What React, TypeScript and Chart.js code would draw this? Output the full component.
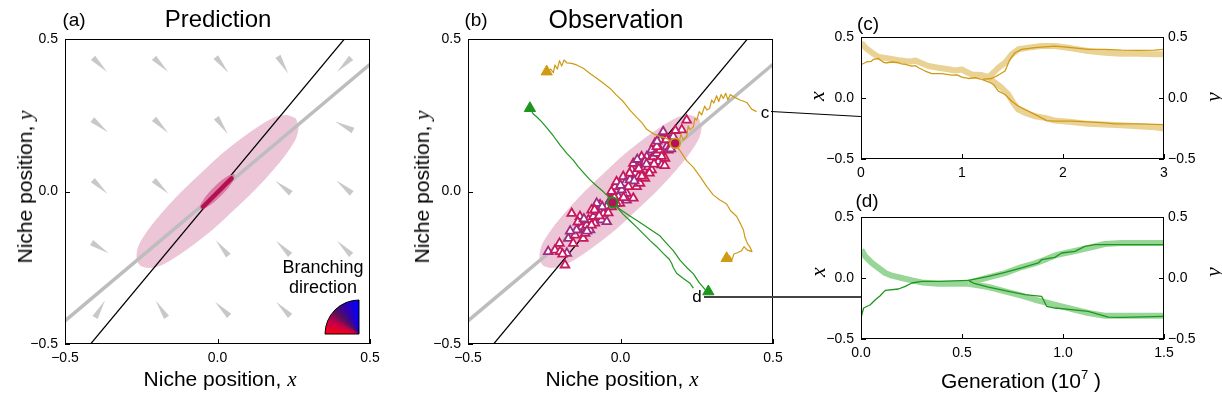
import React, { useEffect, useRef } from 'react';
import { Chart, registerables } from 'chart.js';

Chart.register(...registerables);

type P = [number, number];

const SANS = '"Liberation Sans", Arial, Helvetica, sans-serif';
const SERIF = '"Liberation Serif", "DejaVu Serif", serif';
Chart.defaults.font.family = SANS;

// ---------- axis ticks ----------
const NICHE_TICKS = [-0.5, 0, 0.5];
const NICHE_TICK_LABELS = ['−0.5', '0.0', '0.5'];
const GEN_C_TICKS = [0, 1, 2, 3];
const GEN_C_TICK_LABELS = ['0', '1', '2', '3'];
const GEN_D_TICKS = [0, 0.5, 1, 1.5];
const GEN_D_TICK_LABELS = ['0.0', '0.5', '1.0', '1.5'];

// ---------- panel (a) prediction ----------
const CLOUD_OUTLINE: P[] = [
  [0.256, 0.239], [0.226, 0.249], [0.185, 0.241], [0.115, 0.199], [0.019, 0.126], [-0.055, 0.058],
  [-0.127, -0.011], [-0.207, -0.101], [-0.253, -0.168], [-0.264, -0.208],
  [-0.256, -0.239], [-0.226, -0.249], [-0.185, -0.241], [-0.115, -0.199], [-0.019, -0.126], [0.055, -0.058],
  [0.127, 0.011], [0.207, 0.101], [0.253, 0.168], [0.264, 0.208],
];
const CORE_OUTLINE: P[] = [
  [0.055, 0.055], [0.032, 0.048], [-0.012, 0.012], [-0.048, -0.032],
  [-0.055, -0.055], [-0.032, -0.048], [0.012, -0.012], [0.048, 0.032],
];
const CORE_SEGMENT: P[] = [[-0.047, -0.050], [0.046, 0.043]];
const BLACK_LINE: P[] = [[-0.416, -0.5], [0.416, 0.5]];
const GRAY_LINE: P[] = [[-0.5, -0.424], [0.5, 0.417]];
// [x, y, tip direction in degrees (screen)]
const WEDGES: [number, number, number][] = [
  [-0.385, 0.415, 45], [-0.185, 0.415, 45], [0.015, 0.415, 51], [0.215, 0.415, 59], [0.415, 0.415, 135],
  [-0.385, 0.215, 39], [-0.185, 0.215, 45], [0.015, 0.215, 55], [0.215, 0.215, 60], [0.415, 0.215, 207],
  [-0.385, 0.015, 43], [-0.185, 0.015, 43], [0.215, 0.015, 219], [0.415, 0.015, 220],
  [-0.385, -0.185, 32], [0.015, -0.185, 231], [0.215, -0.185, 225], [0.415, -0.185, 225],
  [-0.385, -0.385, 300], [-0.185, -0.385, 237], [0.015, -0.385, 225], [0.215, -0.385, 225],
];

// ---------- panel (b) observation ----------
const OBS_POINTS: P[] = [
  [-0.237, -0.197], [-0.215, -0.192], [-0.198, -0.197], [-0.176, -0.203], [-0.182, -0.241], [-0.160, -0.072],
  [-0.171, -0.154], [-0.149, -0.143], [-0.138, -0.126], [-0.127, -0.115], [-0.122, -0.154], [-0.111, -0.110],
  [-0.100, -0.126], [-0.105, -0.093], [-0.089, -0.082], [-0.078, -0.066], [-0.084, -0.104], [-0.067, -0.044],
  [-0.062, -0.093], [-0.056, -0.072], [-0.045, -0.050], [-0.034, -0.028], [-0.024, -0.006], [-0.018, 0.016],
  [-0.007, -0.017], [-0.002, -0.039], [0.009, 0.049], [0.015, 0.027], [0.020, -0.006], [0.026, 0.016],
  [0.031, 0.038], [0.037, 0.071], [0.042, 0.092], [0.048, 0.060], [0.059, 0.049], [0.053, 0.016],
  [0.064, 0.092], [0.069, 0.114], [0.075, 0.071], [0.086, 0.114], [0.091, 0.081], [0.097, 0.103],
  [0.102, 0.136], [0.108, 0.114], [0.113, 0.158], [0.119, 0.125], [0.124, 0.098], [0.130, 0.136],
  [0.135, 0.087], [0.141, 0.191], [0.146, 0.109], [0.152, 0.147], [0.157, 0.136], [0.162, 0.169],
  [0.173, 0.180], [0.201, 0.202], [0.217, 0.234], [0.130, 0.169], [0.119, 0.147], [0.080, 0.098],
  [0.020, -0.028], [0.042, -0.022], [0.064, 0.027], [-0.045, -0.099], [-0.029, -0.050], [-0.013, -0.039],
  [-0.078, -0.039], [-0.095, -0.061], [-0.133, -0.082], [-0.144, -0.126], [-0.116, -0.137], [-0.013, 0.032],
  [0.004, 0.005], [0.080, 0.043], [0.102, 0.071], [0.140, 0.196],
  [-0.200, -0.170], [-0.190, -0.205], [-0.165, -0.130], [-0.155, -0.170], [-0.140, -0.100], [-0.120, -0.090],
  [-0.095, -0.110], [-0.070, -0.080], [-0.060, -0.050], [-0.040, -0.070], [-0.020, -0.020], [0.000, 0.020],
  [0.010, -0.020], [0.030, 0.060], [0.045, 0.035], [0.060, 0.075], [0.070, 0.050], [0.085, 0.090],
  [0.095, 0.060], [0.110, 0.090], [0.120, 0.165], [0.135, 0.115], [0.150, 0.170], [0.165, 0.140],
  [0.180, 0.200], [0.145, 0.085], [0.055, 0.105], [-0.030, 0.000], [-0.085, -0.060], [-0.110, -0.130],
];
const GOLD_START: P[] = [
  [0.446, 0.262], [0.430, 0.270], [0.414, 0.292], [0.392, 0.300], [0.370, 0.311], [0.360, 0.318],
  [0.352, 0.300], [0.345, 0.322], [0.337, 0.305], [0.330, 0.318], [0.322, 0.295], [0.315, 0.314],
  [0.306, 0.290], [0.299, 0.300], [0.292, 0.272], [0.283, 0.267], [0.276, 0.280], [0.266, 0.251],
  [0.258, 0.262], [0.250, 0.234], [0.244, 0.240], [0.239, 0.212], [0.228, 0.202], [0.222, 0.215],
  [0.217, 0.180], [0.206, 0.169], [0.198, 0.188], [0.190, 0.150], [0.179, 0.156],
];
const GOLD_BRANCH_A: P[] = [
  [0.179, 0.158], [0.151, 0.174], [0.130, 0.180], [0.108, 0.189], [0.086, 0.204], [0.070, 0.226],
  [0.053, 0.243], [0.031, 0.267], [0.009, 0.295], [-0.013, 0.316], [-0.034, 0.338], [-0.056, 0.355],
  [-0.078, 0.371], [-0.100, 0.387], [-0.122, 0.404], [-0.144, 0.415], [-0.160, 0.420], [-0.176, 0.422],
  [-0.185, 0.431], [-0.193, 0.411], [-0.200, 0.429], [-0.207, 0.401], [-0.215, 0.415], [-0.220, 0.390],
  [-0.229, 0.401], [-0.242, 0.393],
];
const GOLD_BRANCH_B: P[] = [
  [0.179, 0.158], [0.195, 0.134], [0.217, 0.101], [0.239, 0.079], [0.261, 0.049], [0.283, 0.016],
  [0.304, -0.011], [0.326, -0.028], [0.348, -0.041], [0.361, -0.063], [0.381, -0.082], [0.394, -0.107],
  [0.403, -0.126], [0.408, -0.150], [0.416, -0.170], [0.425, -0.183], [0.431, -0.197], [0.416, -0.192],
  [0.405, -0.181], [0.397, -0.194], [0.383, -0.201], [0.372, -0.205], [0.365, -0.225], [0.357, -0.211],
  [0.348, -0.219],
];
const GREEN_START: P[] = [
  [0.239, -0.317], [0.228, -0.301], [0.206, -0.285], [0.184, -0.268], [0.173, -0.249], [0.168, -0.236],
  [0.160, -0.222], [0.140, -0.203], [0.119, -0.181], [0.097, -0.161], [0.075, -0.139], [0.053, -0.117],
  [0.031, -0.096], [0.009, -0.075], [-0.007, -0.057], [-0.018, -0.044], [-0.026, -0.036],
];
const GREEN_BRANCH_A: P[] = [
  [-0.026, -0.036], [-0.040, -0.017], [-0.056, -0.001], [-0.078, 0.018], [-0.100, 0.038], [-0.120, 0.060],
  [-0.138, 0.081], [-0.155, 0.103], [-0.176, 0.125], [-0.198, 0.152], [-0.220, 0.182], [-0.240, 0.207],
  [-0.259, 0.229], [-0.275, 0.245], [-0.286, 0.254], [-0.297, 0.273],
];
const GREEN_BRANCH_B: P[] = [
  [-0.026, -0.036], [-0.002, -0.058], [0.031, -0.080], [0.064, -0.102], [0.097, -0.124], [0.130, -0.146],
  [0.151, -0.170], [0.173, -0.194], [0.195, -0.225], [0.217, -0.249], [0.239, -0.270], [0.258, -0.299],
  [0.277, -0.321], [0.288, -0.328],
];
const GOLD_ENDS: P[] = [[-0.242, 0.393], [0.348, -0.219]];
const GREEN_ENDS: P[] = [[-0.297, 0.273], [0.288, -0.328]];
const GOLD_BRANCH_POINT: P[] = [[0.179, 0.158]];
const GREEN_BRANCH_POINT: P[] = [[-0.026, -0.036]];

// ---------- panel (c) time series (gold) ----------
const C_X_PRE: P[] = [
  [0.003, 0.454], [0.043, 0.413], [0.108, 0.371], [0.174, 0.336], [0.273, 0.325], [0.372, 0.310],
  [0.438, 0.303], [0.504, 0.300], [0.537, 0.308], [0.600, 0.285], [0.668, 0.262], [0.767, 0.248],
  [0.850, 0.238], [0.932, 0.226], [0.998, 0.234], [1.040, 0.215], [1.097, 0.193], [1.195, 0.188], [1.261, 0.171],
];
const C_X_UP: P[] = [
  [1.261, 0.171], [1.294, 0.193], [1.360, 0.248], [1.426, 0.289], [1.492, 0.358], [1.558, 0.399],
  [1.657, 0.413], [1.788, 0.426], [1.920, 0.426], [2.085, 0.407], [2.249, 0.385], [2.414, 0.371],
  [2.579, 0.363], [2.743, 0.363], [2.908, 0.358], [3.0, 0.358],
];
const C_X_DOWN: P[] = [
  [1.261, 0.171], [1.327, 0.125], [1.393, 0.084], [1.459, 0.029], [1.508, -0.040], [1.558, -0.095],
  [1.624, -0.122], [1.722, -0.149], [1.821, -0.163], [1.920, -0.185], [2.085, -0.196], [2.249, -0.212],
  [2.414, -0.218], [2.579, -0.223], [2.743, -0.232], [2.908, -0.240], [3.0, -0.251],
];
const C_Y_PRE: P[] = [
  [0.003, 0.276], [0.030, 0.285], [0.059, 0.297], [0.100, 0.300], [0.125, 0.317], [0.174, 0.325],
  [0.190, 0.310], [0.207, 0.303], [0.230, 0.290], [0.256, 0.289], [0.306, 0.295], [0.372, 0.289],
  [0.400, 0.280], [0.438, 0.276], [0.504, 0.262], [0.540, 0.265], [0.570, 0.248], [0.635, 0.221],
  [0.701, 0.199], [0.800, 0.200], [0.899, 0.188], [0.950, 0.190], [0.998, 0.171], [1.064, 0.160],
  [1.130, 0.166], [1.195, 0.152],
];
const C_Y_UP: P[] = [
  [1.195, 0.152], [1.294, 0.160], [1.360, 0.188], [1.426, 0.221], [1.475, 0.317], [1.525, 0.371],
  [1.591, 0.399], [1.722, 0.413], [1.920, 0.426], [2.085, 0.413], [2.249, 0.399], [2.414, 0.399],
  [2.579, 0.393], [2.743, 0.391], [2.908, 0.393], [3.0, 0.399],
];
const C_Y_DOWN: P[] = [
  [1.195, 0.152], [1.261, 0.133], [1.311, 0.111], [1.360, 0.056], [1.426, 0.029], [1.492, -0.026],
  [1.558, -0.067], [1.657, -0.108], [1.755, -0.149], [1.838, -0.185], [1.920, -0.190], [2.085, -0.190],
  [2.249, -0.196], [2.414, -0.204], [2.513, -0.212], [2.743, -0.212], [3.0, -0.218],
];

// ---------- panel (d) time series (green) ----------
const D_X_PRE: P[] = [
  [0.002, 0.232], [0.021, 0.177], [0.054, 0.123], [0.087, 0.082], [0.120, 0.041], [0.153, 0.019],
  [0.202, 0.000], [0.252, -0.019], [0.301, -0.036], [0.384, -0.047], [0.466, -0.047], [0.532, -0.047],
];
const D_X_UP: P[] = [
  [0.532, -0.040], [0.631, 0.005], [0.713, 0.040], [0.795, 0.090], [0.861, 0.120], [0.910, 0.150],
  [0.960, 0.185], [1.042, 0.215], [1.125, 0.246], [1.207, 0.279], [1.289, 0.287], [1.372, 0.287], [1.5, 0.287],
];
const D_X_DOWN: P[] = [
  [0.532, -0.047], [0.631, -0.074], [0.713, -0.109], [0.795, -0.145], [0.861, -0.178], [0.927, -0.205],
  [0.993, -0.232], [1.059, -0.260], [1.125, -0.287], [1.207, -0.309], [1.289, -0.309], [1.5, -0.309],
];
const D_Y_PRE: P[] = [
  [0.002, -0.314], [0.013, -0.246], [0.046, -0.219], [0.071, -0.178], [0.095, -0.145], [0.120, -0.101],
  [0.186, -0.090], [0.219, -0.068], [0.252, -0.041], [0.301, -0.027], [0.384, -0.027], [0.532, -0.019],
];
const D_Y_UP: P[] = [
  [0.532, -0.019], [0.631, 0.014], [0.713, 0.046], [0.795, 0.082], [0.878, 0.123], [0.894, 0.150],
  [0.960, 0.169], [0.993, 0.205], [1.059, 0.218], [1.108, 0.259], [1.158, 0.273], [1.372, 0.273], [1.5, 0.273],
];
const D_Y_DOWN: P[] = [
  [0.532, -0.019], [0.560, -0.045], [0.631, -0.074], [0.730, -0.109], [0.812, -0.137], [0.894, -0.150],
  [0.919, -0.232], [0.960, -0.246], [1.042, -0.260], [1.125, -0.273], [1.224, -0.320], [1.289, -0.322], [1.5, -0.314],
];

// ---------- colours ----------
const PINK_CLOUD = '#ecc6d7';
const PINK_CORE = '#d97ba6';
const MAGENTA = '#b3104f';
const GRAY = '#bdbdbd';
const GOLD = '#cf9a14';
const GOLD_LIGHT = '#e9d294';
const GREEN = '#1d961d';
const GREEN_LIGHT = '#98d698';

// ---------- helpers ----------
const pts = (arr: P[]) => arr.map(([x, y]) => ({ x, y }));
const closed = (arr: P[]) => pts([...arr, arr[0]]);

function axisOpts(position: string, ticks: number[], labels: string[], min: number, max: number, fit: (s: any) => void, padding = 7) {
  return {
    type: 'linear',
    position,
    min,
    max,
    afterBuildTicks: (s: any) => { s.ticks = ticks.map((v) => ({ value: v })); },
    afterFit: fit,
    grid: { display: false, drawTicks: false },
    border: { display: false },
    ticks: {
      autoSkip: false,
      maxRotation: 0,
      minRotation: 0,
      padding,
      color: '#000',
      font: { family: SANS, size: 14 },
      callback: (_v: any, i: number) => labels[i],
    },
  };
}

const framePlugin = {
  id: 'frame',
  afterDatasetsDraw(chart: any, _args: any, opts: any) {
    const { ctx, chartArea: a } = chart;
    ctx.save();
    ctx.strokeStyle = '#000';
    ctx.lineWidth = 1;
    ctx.strokeRect(a.left + 0.5, a.top + 0.5, a.right - a.left - 1, a.bottom - a.top - 1);
    const len = 5;
    ctx.beginPath();
    for (const [id, side] of (opts.ticks || [])) {
      const s = chart.scales[id];
      if (!s) continue;
      for (const t of s.ticks) {
        const p = Math.round(s.getPixelForValue(t.value)) + 0.5;
        if (side === 'bottom') { ctx.moveTo(p, a.bottom); ctx.lineTo(p, a.bottom - len); }
        if (side === 'left') { ctx.moveTo(a.left, p); ctx.lineTo(a.left + len, p); }
        if (side === 'right') { ctx.moveTo(a.right, p); ctx.lineTo(a.right - len, p); }
      }
    }
    ctx.stroke();
    ctx.restore();
  },
};

const wedgePlugin = {
  id: 'wedges',
  beforeDatasetsDraw(chart: any, _args: any, opts: any) {
    if (!opts.items) return;
    const { ctx } = chart;
    const xs = chart.scales.x;
    const ys = chart.scales.y;
    ctx.save();
    ctx.fillStyle = '#c8c8c8';
    for (const [x, y, deg] of opts.items) {
      const cx = xs.getPixelForValue(x);
      const cy = ys.getPixelForValue(y);
      const ang = (deg * Math.PI) / 180;
      const L = 10, W = 3;
      const ux = Math.cos(ang), uy = Math.sin(ang);
      ctx.beginPath();
      ctx.moveTo(cx + ux * L, cy + uy * L);
      ctx.lineTo(cx - ux * L - uy * W, cy - uy * L + ux * W);
      ctx.lineTo(cx - ux * L + uy * W, cy - uy * L - ux * W);
      ctx.closePath();
      ctx.fill();
    }
    ctx.restore();
  },
  afterDatasetsDraw(chart: any, _args: any, opts: any) {
    if (!opts.branching) return;
    const { ctx, chartArea: a } = chart;
    const cx = a.right - 11, cy = a.bottom - 10, r = 34;
    ctx.save();
    const g = (ctx as any).createConicGradient(Math.PI, cx, cy);
    g.addColorStop(0, '#ff0010');
    g.addColorStop(0.07, '#c0004a');
    g.addColorStop(0.125, '#50105e');
    g.addColorStop(0.18, '#3000b0');
    g.addColorStop(0.25, '#0000ff');
    g.addColorStop(1, '#ff0010');
    ctx.fillStyle = g;
    ctx.beginPath();
    ctx.moveTo(cx, cy);
    ctx.arc(cx, cy, r, Math.PI, 1.5 * Math.PI);
    ctx.closePath();
    ctx.fill();
    ctx.strokeStyle = '#000';
    ctx.lineWidth = 1;
    ctx.stroke();
    ctx.restore();
  },
};

const lineDs = (data: P[], color: string, width: number, order: number, extra: any = {}) => ({
  data: pts(data), showLine: true, borderColor: color, borderWidth: width, pointRadius: 0,
  pointHoverRadius: 0, order, borderJoinStyle: 'round', ...extra,
});

const cloudDs = (order: number) => ({
  data: closed(CLOUD_OUTLINE), showLine: true, fill: 'shape', backgroundColor: PINK_CLOUD,
  borderColor: PINK_CLOUD, borderWidth: 1, pointRadius: 0, tension: 0.3, order,
});

function baseOptions(padding: any, scales: any, plugins: any) {
  return {
    animation: false,
    responsive: false,
    events: [],
    layout: { padding },
    scales,
    plugins: { legend: { display: false }, tooltip: { enabled: false }, title: { display: false }, ...plugins },
  };
}

function configA(): any {
  return {
    type: 'scatter',
    data: {
      datasets: [
        lineDs(CORE_SEGMENT, MAGENTA, 4.5, 1, { borderCapStyle: 'round' }),
        { data: closed(CORE_OUTLINE), showLine: true, fill: 'shape', backgroundColor: PINK_CORE, borderColor: PINK_CORE, borderWidth: 1, pointRadius: 0, tension: 0.4, order: 2 },
        lineDs(BLACK_LINE, '#000', 1.2, 3),
        lineDs(GRAY_LINE, GRAY, 3.5, 4),
        cloudDs(5),
      ],
    },
    options: baseOptions(
      { left: 0, top: 39, right: 30, bottom: 20 },
      {
        x: axisOpts('bottom', NICHE_TICKS, NICHE_TICK_LABELS, -0.5, 0.5, (s: any) => { s.height = 30; }, 6),
        y: axisOpts('left', NICHE_TICKS, NICHE_TICK_LABELS, -0.5, 0.5, (s: any) => { s.width = 65; }),
      },
      { frame: { ticks: [['x', 'bottom'], ['y', 'left']] }, wedges: { items: WEDGES, branching: true } },
    ),
    plugins: [framePlugin, wedgePlugin],
  };
}

function configB(): any {
  const tri = (data: P[], color: string, order: number) => ({
    data: pts(data), showLine: false, pointStyle: 'triangle', pointRadius: 6.5, backgroundColor: color,
    borderColor: color, borderWidth: 1, order,
  });
  const dot = (data: P[], ring: string, order: number) => ({
    data: pts(data), showLine: false, pointStyle: 'circle', pointRadius: 5, backgroundColor: '#b5105a',
    borderColor: ring, borderWidth: 1.8, order,
  });
  return {
    type: 'scatter',
    data: {
      datasets: [
        dot(GOLD_BRANCH_POINT, GOLD, 1),
        dot(GREEN_BRANCH_POINT, GREEN, 1),
        tri(GOLD_ENDS, GOLD, 2),
        tri(GREEN_ENDS, GREEN, 2),
        lineDs(GOLD_START, GOLD, 1.2, 3),
        lineDs(GOLD_BRANCH_A, GOLD, 1.2, 3),
        lineDs(GOLD_BRANCH_B, GOLD, 1.2, 3),
        lineDs(GREEN_START, GREEN, 1.2, 3),
        lineDs(GREEN_BRANCH_A, GREEN, 1.2, 3),
        lineDs(GREEN_BRANCH_B, GREEN, 1.2, 3),
        {
          data: pts(OBS_POINTS), showLine: false, pointStyle: 'triangle', pointRadius: 5,
          backgroundColor: '#ffffff',
          borderColor: (c: any) => (c.dataIndex % 3 === 0 ? '#9e2a82' : '#c8175c'),
          borderWidth: 1.8, order: 4,
        },
        lineDs(BLACK_LINE, '#000', 1.2, 5),
        lineDs(GRAY_LINE, GRAY, 3.5, 6),
        cloudDs(7),
      ],
    },
    options: baseOptions(
      { left: 0, top: 39, right: 27, bottom: 20 },
      {
        x: axisOpts('bottom', NICHE_TICKS, NICHE_TICK_LABELS, -0.5, 0.5, (s: any) => { s.height = 30; }, 6),
        y: axisOpts('left', NICHE_TICKS, NICHE_TICK_LABELS, -0.5, 0.5, (s: any) => { s.width = 68; }),
      },
      { frame: { ticks: [['x', 'bottom'], ['y', 'left']] }, wedges: {} },
    ),
    plugins: [framePlugin],
  };
}

function configSeries(
  xPre: P[], xUp: P[], xDown: P[], yPre: P[], yUp: P[], yDown: P[],
  thin: string, thick: string, tTicks: number[], tLabels: string[], tMax: number, padding: any,
): any {
  return {
    type: 'scatter',
    data: {
      datasets: [
        lineDs(yPre, thin, 1.3, 1),
        lineDs(yUp, thin, 1.3, 1),
        lineDs(yDown, thin, 1.3, 1),
        lineDs(xPre, thick, 6, 3),
        lineDs(xUp, thick, 6, 3),
        lineDs(xDown, thick, 6, 3),
      ],
    },
    options: baseOptions(
      padding,
      {
        x: axisOpts('bottom', tTicks, tLabels, 0, tMax, (s: any) => { s.height = 25; }, 6),
        y: axisOpts('left', NICHE_TICKS, NICHE_TICK_LABELS, -0.5, 0.5, (s: any) => { s.width = 61; }),
        y2: axisOpts('right', NICHE_TICKS, NICHE_TICK_LABELS, -0.5, 0.5, (s: any) => { s.width = 58; }, 4),
      },
      { frame: { ticks: [['x', 'bottom'], ['y', 'left'], ['y2', 'right']] } },
    ),
    plugins: [framePlugin],
  };
}

function ChartCanvas({ left, top, width, height, make }: { left: number; top: number; width: number; height: number; make: () => any }) {
  const ref = useRef<HTMLCanvasElement | null>(null);
  useEffect(() => {
    if (!ref.current) return;
    const chart = new Chart(ref.current, make());
    return () => chart.destroy();
  }, []);
  return (
    <canvas
      ref={ref}
      width={width}
      height={height}
      style={{ position: 'absolute', left, top, width, height }}
    />
  );
}

function Txt({ x, y, size, children, rotate = 0, family = SANS }: { x: number; y: number; size: number; children: any; rotate?: number; family?: string }) {
  return (
    <div
      style={{
        position: 'absolute', left: x, top: y, transform: `translate(-50%, -50%) rotate(${rotate}deg)`,
        fontSize: size, fontFamily: family, whiteSpace: 'nowrap', lineHeight: 1, color: '#000',
      }}
    >
      {children}
    </div>
  );
}

const Var = ({ c }: { c: string }) => (
  <span style={{ fontFamily: SERIF, fontStyle: 'italic' }}>{c}</span>
);

export default function App() {
  return (
    <div style={{ position: 'fixed', left: 0, top: 0, width: 1222, height: 394, background: '#fff', overflow: 'hidden' }}>
      <ChartCanvas left={0} top={0} width={400} height={394} make={configA} />
      <ChartCanvas left={400} top={0} width={400} height={394} make={configB} />
      <ChartCanvas
        left={800} top={0} width={422} height={200}
        make={() => configSeries(C_X_PRE, C_X_UP, C_X_DOWN, C_Y_PRE, C_Y_UP, C_Y_DOWN, GOLD, GOLD_LIGHT, GEN_C_TICKS, GEN_C_TICK_LABELS, 3, { left: 0, top: 37, right: 0, bottom: 16 })}
      />
      <ChartCanvas
        left={800} top={200} width={422} height={194}
        make={() => configSeries(D_X_PRE, D_X_UP, D_X_DOWN, D_Y_PRE, D_Y_UP, D_Y_DOWN, GREEN, GREEN_LIGHT, GEN_D_TICKS, GEN_D_TICK_LABELS, 1.5, { left: 0, top: 17, right: 0, bottom: 30 })}
      />

      {/* connectors */}
      <div style={{ position: 'absolute', left: 771, top: 111, width: 90, height: 1, background: '#000', transformOrigin: '0 0', transform: 'rotate(3.2deg)' }} />
      <div style={{ position: 'absolute', left: 704, top: 296, width: 157, height: 1.5, background: '#444' }} />

      {/* panel titles */}
      <Txt x={74} y={19} size={19}>(a)</Txt>
      <Txt x={218} y={19} size={24}>Prediction</Txt>
      <Txt x={476} y={19} size={19}>(b)</Txt>
      <Txt x={616} y={19} size={25}>Observation</Txt>
      <Txt x={868} y={23} size={19}>(c)</Txt>
      <Txt x={867} y={200} size={19}>(d)</Txt>

      {/* axis titles */}
      <Txt x={220} y={379} size={21}>Niche position, <Var c="x" /></Txt>
      <Txt x={25} y={187} size={21} rotate={-90}>Niche position, <Var c="y" /></Txt>
      <Txt x={622} y={379} size={21}>Niche position, <Var c="x" /></Txt>
      <Txt x={422} y={187} size={21} rotate={-90}>Niche position, <Var c="y" /></Txt>
      <Txt x={817} y={96} size={22} rotate={-90} family={SERIF}><Var c="x" /></Txt>
      <Txt x={1213} y={97} size={22} rotate={-90} family={SERIF}><Var c="y" /></Txt>
      <Txt x={818} y={272} size={22} rotate={-90} family={SERIF}><Var c="x" /></Txt>
      <Txt x={1213} y={272} size={22} rotate={-90} family={SERIF}><Var c="y" /></Txt>
      <Txt x={1021} y={380} size={21}>Generation (10<sup style={{ fontSize: 13, verticalAlign: 'top', position: 'relative', top: -2 }}>7</sup> )</Txt>

      {/* inset legend and trajectory labels */}
      <Txt x={323} y={267} size={18}>Branching</Txt>
      <Txt x={323} y={287} size={18}>direction</Txt>
      <Txt x={765} y={112} size={17}>c</Txt>
      <Txt x={697} y={296} size={17}>d</Txt>
    </div>
  );
}
